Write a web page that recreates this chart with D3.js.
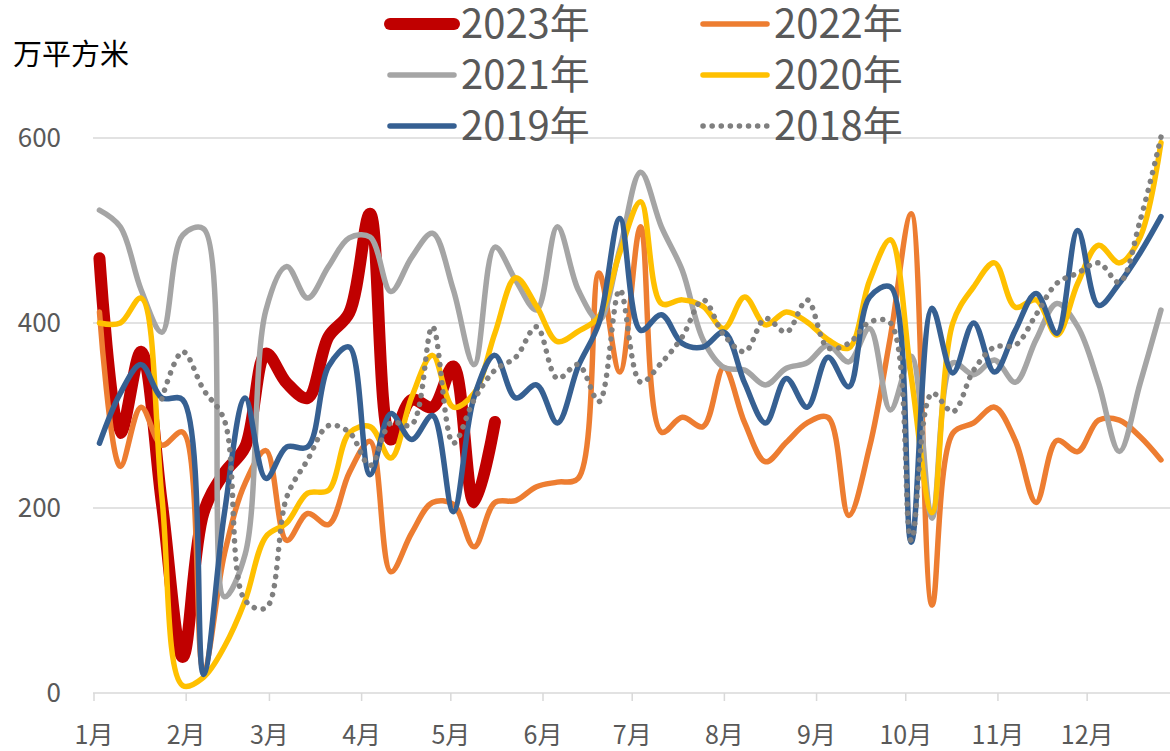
<!DOCTYPE html>
<html>
<head>
<meta charset="utf-8">
<script src="https://cdn.jsdelivr.net/npm/d3@7"></script>
<style>
  body { margin: 0; background: #fff; }
  svg { display: block; font-family: "Noto Sans CJK SC", "Noto Sans", sans-serif; }
</style>
</head>
<body>
<svg id="grafico"></svg>
<script>
// semanas (data de cada ponto, eixo de datas do ano)
var semanas = ['01-03','01-10','01-17','01-24','01-31','02-07','02-14','02-21','02-28','03-07','03-14','03-21','03-28',
               '04-04','04-11','04-18','04-25','05-02','05-09','05-16','05-23','05-30','06-06','06-13','06-20','06-27',
               '07-04','07-11','07-18','07-25','08-01','08-08','08-15','08-22','08-29','09-05','09-12','09-19','09-26',
               '10-03','10-10','10-17','10-24','10-31','11-07','11-14','11-21','11-28','12-05','12-12','12-19','12-26'];

var v2023 = [470, 281, 369, 205, 39, 195, 238, 266, 367, 335, 319, 385, 411, 518, 274, 317, 309, 353, 206, 293];
var v2022 = [412, 245, 309, 268, 282, 25, 150, 227, 262, 165, 194, 182, 238, 272, 131, 173, 206, 204, 158, 206,
             208, 223, 228, 232, 454, 347, 504, 282, 298, 288, 352, 292, 250, 271, 292, 298, 192, 266, 385, 518,
             95, 281, 292, 309, 273, 206, 273, 261, 295, 295, 277, 252];
var v2021 = [522, 504, 436, 390, 495, 502, 104, 150, 414, 461, 427, 461, 492, 493, 434, 471, 497, 436, 355, 482,
             446, 414, 504, 436, 403, 480, 563, 504, 457, 382, 352, 349, 333, 351, 357, 376, 358, 394, 306, 364,
             189, 357, 344, 360, 336, 382, 421, 396, 335, 261, 335, 414];
var v2020 = [400, 400, 427, 212, 8, 17, 50, 100, 169, 184, 216, 219, 281, 288, 254, 320, 365, 309, 324, 389,
             449, 418, 380, 391, 407, 476, 531, 421, 425, 418, 394, 428, 398, 412, 401, 382, 373, 446, 490, 342,
             195, 400, 439, 465, 417, 425, 387, 443, 484, 465, 493, 595];
var v2019 = [270, 324, 355, 319, 317, 20, 194, 319, 232, 266, 266, 353, 374, 236, 302, 274, 300, 196, 320, 365,
             319, 333, 292, 353, 400, 513, 392, 409, 378, 374, 390, 335, 292, 340, 309, 363, 331, 428, 439, 163,
             416, 346, 400, 347, 392, 432, 389, 500, 419, 443, 476, 515];
var v2018 = [null, null, null, 318, 369, 328, 295, 100, 92, 212, 252, 289, 282, 246, 292, 290, 396, 270, 317, 349,
             363, 396, 340, 355, 315, 436, 336, 357, 385, 425, 387, 369, 405, 390, 425, 373, 378, 401, 400, 165,
             324, 304, 349, 374, 376, 409, 443, 454, 465, 444, 511, 601];

var anos = ['2023年', '2022年', '2021年', '2020年', '2019年', '2018年'];
var cores = ['#C00000', '#ED7D31', '#A5A5A5', '#FFC000', '#366092', '#7F7F7F'];
var ticksY = [0, 200, 400, 600];
var unidade = '万平方米';

var series = [v2023, v2022, v2021, v2020, v2019, v2018].map(function(valores, i) {
  return { nome: anos[i], cor: cores[i], valores: valores };
});

var svg = d3.select('#grafico')
            .attr('width', 1170)
            .attr('height', 751);

var parse = d3.timeParse('%Y-%m-%d');
var datas = semanas.map(d => parse('2023-' + d));

var x = d3.scaleTime()
          .domain([parse('2023-01-01'), parse('2023-12-31')])
          .range([93.5, 93.5 + 364 * 2.9735]);
var y = d3.scaleLinear()
          .domain([0, 600])
          .range([693, 138]);

// grade horizontal
svg.append('g')
   .selectAll('line')
   .data(ticksY.slice(1))
   .enter()
     .append('line')
     .attr('x1', 93)
     .attr('x2', 1170)
     .attr('y1', d => y(d))
     .attr('y2', d => y(d))
     .attr('stroke', '#D9D9D9')
     .attr('stroke-width', 1.5);

// rotulos Y
svg.append('g')
   .selectAll('text')
   .data(ticksY)
   .enter()
     .append('text')
     .attr('x', 61)
     .attr('y', d => y(d))
     .attr('dy', '0.36em')
     .attr('text-anchor', 'end')
     .attr('fill', '#595959')
     .style('font-size', '26px')
     .text(d => d);

// eixo X
var eixoX = d3.axisBottom(x)
              .ticks(d3.timeMonth.every(1))
              .tickFormat(d => (d.getMonth() + 1) + '月')
              .tickSize(8)
              .tickSizeOuter(0)
              .tickPadding(25);
var gx = svg.append('g')
            .attr('transform', 'translate(0,' + y(0) + ')')
            .call(eixoX);
gx.select('.domain').attr('stroke', '#D9D9D9').attr('stroke-width', 1.5)
  .attr('d', 'M93,0H1170');
gx.selectAll('.tick line').attr('stroke', '#D9D9D9').attr('stroke-width', 1.5);
gx.selectAll('.tick text')
  .attr('fill', '#595959')
  .style('font-size', '25px')
  .style('font-family', '"Noto Sans CJK SC", sans-serif');

// linhas
var linha = d3.line()
              .defined(d => d.v != null)
              .x(d => x(d.data))
              .y(d => y(d.v))
              .curve(d3.curveCatmullRom.alpha(0.5));

svg.append('g')
   .selectAll('path')
   .data(series)
   .enter()
     .append('path')
     .attr('d', s => linha(s.valores.map((v, i) => ({ data: datas[i], v: v }))))
     .attr('fill', 'none')
     .attr('stroke', s => s.cor)
     .attr('stroke-width', (s, i) => i == 0 ? 12 : 5.5)
     .attr('stroke-linecap', 'round')
     .attr('stroke-linejoin', 'round')
     .attr('stroke-dasharray', (s, i) => i == 5 ? '0.1 9' : null);

// legenda
var legenda = svg.append('g')
                 .selectAll('.item')
                 .data(series)
                 .enter()
                   .append('g')
                   .classed('item', true)
                   .attr('transform', (s, i) => 'translate(' + (i % 2 == 0 ? 385 : 698) + ',' + (24 + Math.floor(i / 2) * 51) + ')');
legenda.append('line')
       .attr('x1', 5)
       .attr('x2', 69)
       .attr('y1', 0)
       .attr('y2', 0)
       .attr('stroke', s => s.cor)
       .attr('stroke-width', (s, i) => i == 0 ? 12 : 5.5)
       .attr('stroke-linecap', 'round')
       .attr('stroke-dasharray', (s, i) => i == 5 ? '0.1 9' : null);
legenda.append('text')
       .attr('x', 76)
       .attr('y', 0)
       .attr('dy', '0.36em')
       .attr('fill', '#595959')
       .style('font-size', '40px')
       .text(s => s.nome);

// unidade
svg.append('text')
   .attr('x', 13)
   .attr('y', 55)
   .attr('dy', '0.36em')
   .attr('fill', '#000')
   .style('font-size', '29px')
   .text(unidade);
</script>
</body>
</html>
